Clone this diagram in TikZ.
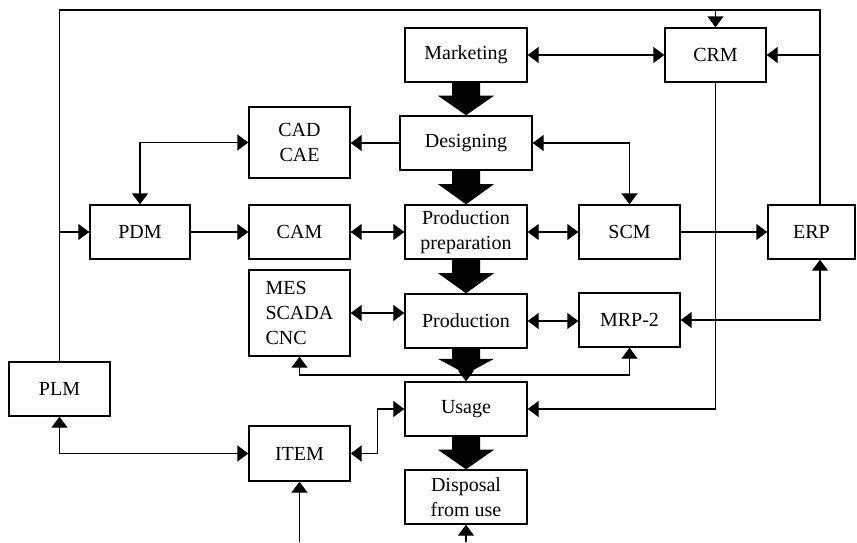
\documentclass[tikz,border=0pt]{standalone}
\usepackage{fontspec}
\setmainfont{Liberation Serif}
\usetikzlibrary{arrows.meta,calc}

% broad filled arrow for the main life-cycle flow
\newcommand\bigflow[2]{%
  \fill ($(#1)+(-14,0)$) -- ($(#1)!0.4!(#2)+(-14,0)$) -- ($(#1)!0.4!(#2)+(-28,0)$)
    -- (#2) -- ($(#1)!0.4!(#2)+(28,0)$) -- ($(#1)!0.4!(#2)+(14,0)$) -- ($(#1)+(14,0)$) -- cycle;}

\begin{document}
\begin{tikzpicture}[x=1pt,y=-1pt,line width=1.4pt,
  box/.style={draw,minimum width=101pt,minimum height=54pt,inner sep=0pt,
    align=center,font=\fontsize{20}{25}\selectfont},
  wide/.style={box,minimum width=122pt},
  link/.style={-{Triangle[length=11pt,width=16pt]}},
  both/.style={{Triangle[length=11pt,width=16pt]}-{Triangle[length=11pt,width=16pt]}},
]
\useasboundingbox (0,0) rectangle (857,542);

% blocks
\node[wide] (mkt) at (466,55) {Marketing};
\node[box] (crm) at (715.5,55) {CRM};
\node[box,minimum width=132pt] (des) at (466,143) {Designing};
\node[box,minimum height=71pt] (cad) at (299.5,142.5) {CAD\\CAE};
\node[box,minimum width=100pt] (pdm) at (140,232) {PDM};
\node[box] (cam) at (299.5,232) {CAM};
\node[wide] (pp) at (466,232) {Production\\preparation};
\node[box] (scm) at (629.5,232) {SCM};
\node[box,minimum width=87pt] (erp) at (811.5,232) {ERP};
\node[box,minimum height=86pt,text width=68pt,align=left] (mes) at (299.5,313) {MES\\SCADA\\CNC};
\node[wide] (prod) at (466,321) {Production};
\node[box] (mrp) at (629.5,320) {MRP-2};
\node[wide] (use) at (466,409) {Usage};
\node[box,minimum height=55pt] (item) at (299.5,453.5) {ITEM};
\node[box] (plm) at (59.5,389) {PLM};
\node[wide] (disp) at (466,497) {Disposal\\from use};

% routing points
\coordinate (tl) at (59.5,10);
\coordinate (tr) at (820,10);
\coordinate (br) at (466,375);
\coordinate (uin) at (466,374);
\coordinate (itemin) at (299.5,542);
\coordinate (dispin) at (466,542);

% outer loop from PLM over the top to ERP
\draw (plm.north) -- (tl) -- (tr) -- (tr |- erp.north);
\draw[link] (crm.north |- tl) -- (crm.north);
\draw[link] (crm.east -| tr) -- (crm.east);
\draw[link] (pdm.west -| tl) -- (pdm.west);

% information links
\draw[both] (mkt.east) -- (crm.west);
\draw[link] (des.west) -- (des.west -| cad.east);
\draw[both] (pdm.north) |- (cad.west);
\draw[link] (pdm.east) -- (cam.west);
\draw[both] (cam.east) -- (pp.west);
\draw[both] (des.east) -| (scm.north);
\draw[both] (pp.east) -- (scm.west);
\draw[link] (scm.east) -- (erp.west);
\draw[link] (crm.south) |- (use.east);
\draw[both] (mrp.east) -| (tr |- erp.south);
\draw[both] (mes.east) -- (mes.east -| prod.west);
\draw[both] (prod.east) -- (prod.east -| mrp.west);
\draw[link] (br) -| (mes.south);
\draw[link] (br) -| (mrp.south);
\draw[link] (br) -- (use.north);
\draw[both] (item.east) -- ++(27,0) |- (use.west);
\draw[both] (plm.south) |- (item.west);
\draw[link] (itemin) -- (item.south);
\draw[link] (dispin) -- (disp.south);

% main flow
\bigflow{mkt.south}{des.north}
\bigflow{des.south}{pp.north}
\bigflow{pp.south}{prod.north}
\bigflow{prod.south}{uin}
\bigflow{use.south}{disp.north}
\end{tikzpicture}
\end{document}
